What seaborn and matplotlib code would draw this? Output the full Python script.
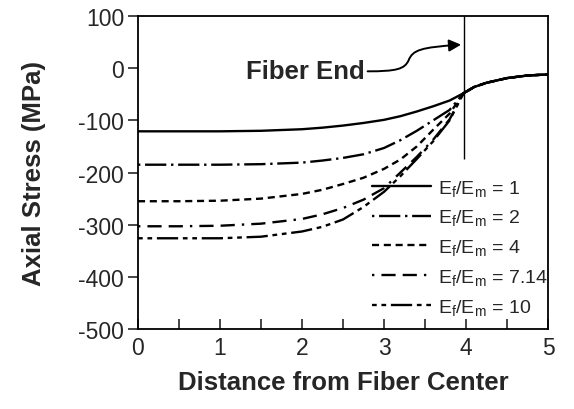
import matplotlib
matplotlib.use("Agg")
import matplotlib.pyplot as plt
from matplotlib.path import Path
from matplotlib.patches import FancyArrowPatch
import seaborn as sns
import pandas as pd

sns.set_style("white")
plt.rcParams['font.family'] = ['Liberation Sans', 'DejaVu Sans']
plt.rcParams['axes.unicode_minus'] = False
plt.rcParams['mathtext.fontset'] = 'custom'
plt.rcParams['mathtext.rm'] = 'Liberation Sans'
plt.rcParams['mathtext.it'] = 'Liberation Sans:italic'
plt.rcParams['mathtext.bf'] = 'Liberation Sans:bold'

# ---- data ----
distance = [0, 0.5, 1, 1.5, 2, 2.25, 2.5, 2.75, 3, 3.2, 3.4, 3.6, 3.8, 3.97,
            4.1, 4.25, 4.5, 4.75, 5]
tail = [-36, -28, -19, -14, -12]
stress_r1 = [-121, -121, -121, -120, -117, -114, -110, -105, -99, -92, -83, -73, -62, -48] + tail
stress_r2 = [-185, -185, -185, -184, -181, -177, -172, -165, -153, -138, -120, -100, -80, -48] + tail
stress_r4 = [-255, -255, -254, -250, -241, -233, -222, -210, -193, -175, -150, -118, -87, -48] + tail
stress_r714 = [-303, -303, -302, -298, -289, -280, -268, -252, -230, -200, -170, -137, -98, -48] + tail
stress_r10 = [-326, -326, -326, -323, -313, -304, -290, -266, -237, -207, -174, -140, -100, -48] + tail
ratios = ["1", "2", "4", "7.14", "10"]
series = [stress_r1, stress_r2, stress_r4, stress_r714, stress_r10]
fiber_end_x = 3.97
fiber_end_line = [-175, 100]
label_text = "Fiber End"
label_pos = (2.04, -6)
arrow_path = [(2.80, -6), (3.15, -6), (3.25, -2), (3.30, 15),
              (3.35, 35), (3.45, 40), (3.94, 45)]

styles = ['-', (0, (1, 2, 9, 2)), (0, (3, 2)), (0, (1, 3, 6, 3, 6, 3)), (0, (2, 2, 2, 2, 9, 2))]

fig = plt.figure(figsize=(5.74, 4.10), dpi=100)
ax = fig.add_axes([0.2404, 0.195, 0.7143, 0.7635])

for r, ys, ls in zip(ratios, series, styles):
    df = pd.DataFrame({"x": distance, "y": ys})
    sns.lineplot(data=df, x="x", y="y", ax=ax, color="black", linewidth=1.7,
                 linestyle=ls, label=r"E$_{\mathrm{f}}$/E$_{\mathrm{m}}$ = " + r,
                 zorder=5 if r == "1" else 3)

ax.vlines(fiber_end_x, fiber_end_line[0], fiber_end_line[1], color="black", linewidth=1.0)

ax.set_xlim(0, 5)
ax.set_ylim(-500, 100)
ax.set_xticks([0, 1, 2, 3, 4, 5])
ax.set_xticks([0.5, 1.5, 2.5, 3.5, 4.5], minor=True)
ax.set_yticks(range(-500, 101, 100))
ax.tick_params(axis='x', which='both', direction='in', length=7, width=1.2,
               labelsize=16.5, pad=5, bottom=True)
ax.tick_params(axis='y', direction='out', length=7, width=1.2, labelsize=16.5, pad=3, left=True)
for s in ax.spines.values():
    s.set_color("black")
    s.set_linewidth(1.3)

ax.set_xlabel("Distance from Fiber Center", fontsize=18.5, fontweight='bold', labelpad=8)
ax.set_ylabel("Axial Stress (MPa)", fontsize=18.5, fontweight='bold', labelpad=23)

ax.text(label_pos[0], label_pos[1], label_text, fontsize=18.5, fontweight='bold',
        ha='center', va='center')
codes = [Path.MOVETO, Path.CURVE4, Path.CURVE4, Path.CURVE4,
         Path.CURVE4, Path.CURVE4, Path.CURVE4]
arrow = FancyArrowPatch(path=Path(arrow_path, codes), arrowstyle='-|>',
                        mutation_scale=18, color='black', lw=1.4,
                        transform=ax.transData)
ax.add_patch(arrow)

leg = ax.legend(loc='lower right', bbox_to_anchor=(1.0, 0.04), frameon=False,
                fontsize=14, handlelength=3.0, handletextpad=0.4,
                labelspacing=0.5, borderpad=0, borderaxespad=0)

fig.savefig("out.png", dpi=100)
